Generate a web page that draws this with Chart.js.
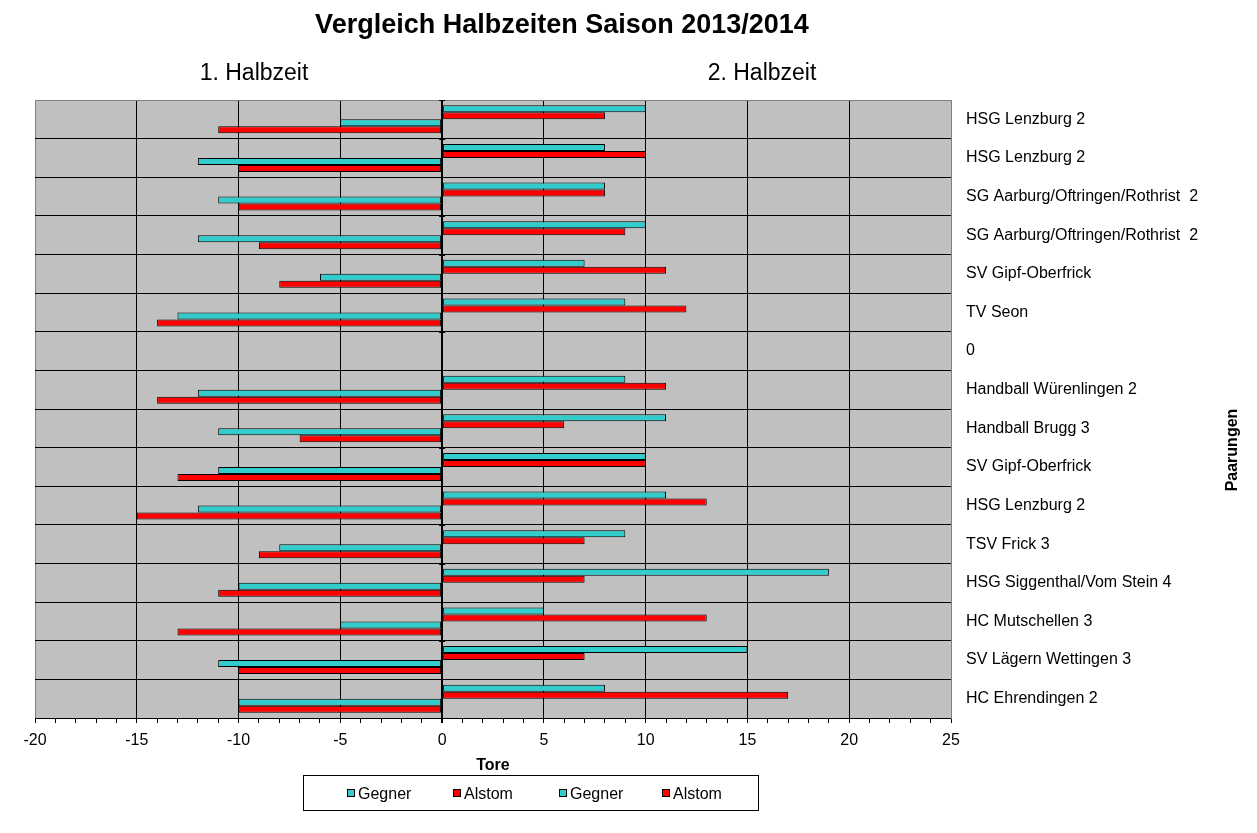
<!DOCTYPE html>
<html>
<head>
<meta charset="utf-8">
<script src="https://cdn.jsdelivr.net/npm/chart.js@4.4.0/dist/chart.umd.min.js"></script>
<style>
    html, body { margin: 0; padding: 0; background: #fff; }
    #wrap { position: relative; width: 1257px; height: 833px; }
</style>
</head>
<body>
<div id="wrap"><canvas id="chart" width="1257" height="833"></canvas></div>
<script>
// Paarungen, von oben nach unten
const paarungen = [
    'HSG Lenzburg 2', 'HSG Lenzburg 2', 'SG Aarburg/Oftringen/Rothrist  2', 'SG Aarburg/Oftringen/Rothrist  2',
    'SV Gipf-Oberfrick', 'TV Seon', '0', 'Handball Würenlingen 2', 'Handball Brugg 3', 'SV Gipf-Oberfrick',
    'HSG Lenzburg 2', 'TSV Frick 3', 'HSG Siggenthal/Vom Stein 4', 'HC Mutschellen 3', 'SV Lägern Wettingen 3',
    'HC Ehrendingen 2'
];
// 2. Halbzeit (positiv)
const gegner2 = [10, 8, 8, 10, 7, 9, null, 9, 11, 10, 11, 9, 19, 5, 15, 8];
const alstom2 = [8, 10, 8, 9, 11, 12, null, 11, 6, 10, 13, 7, 7, 13, 7, 17];
// 1. Halbzeit (negativ dargestellt)
const gegner1 = [-5, -12, -11, -12, -6, -13, null, -12, -11, -11, -12, -8, -10, -5, -11, -10];
const alstom1 = [-11, -10, -10, -9, -8, -14, null, -14, -7, -13, -15, -9, -11, -13, -10, -10];

const xMin = -20, xMax = 25, xMajor = 5;

const cyan = '#33CCCC';
const red = '#FF0000';
const fontFamily = "Arial, 'Liberation Sans', sans-serif";

// grauer Hintergrund der Zeichnungsfläche
const plotBackground = {
    id: 'plotBackground',
    beforeDraw(chart) {
        const { ctx, chartArea: a } = chart;
        ctx.save();
        ctx.fillStyle = '#C0C0C0';
        ctx.fillRect(a.left, a.top, a.right - a.left, a.bottom - a.top);
        ctx.restore();
    }
};

// Titel, Halbzeit-Beschriftungen, Achsentitel rechts, Legende mit Rahmen
const extras = {
    id: 'extras',
    afterDraw(chart) {
        const { ctx } = chart;
        const xs = chart.scales.x;
        const ys = chart.scales.y;
        ctx.save();

        // kleine Teilstriche auf der Nulllinie
        const x0 = xs.getPixelForValue(0);
        ctx.strokeStyle = '#000';
        ctx.lineWidth = 1;
        const band = (ys.bottom - ys.top) / paarungen.length;
        for (let i = 0; i <= paarungen.length; i++) {
            const y = Math.round(ys.top + i * band) + 0.5;
            ctx.beginPath();
            ctx.moveTo(x0 - 3, y);
            ctx.lineTo(x0 + 3, y);
            ctx.stroke();
        }

        ctx.fillStyle = '#000';
        ctx.textBaseline = 'alphabetic';
        ctx.textAlign = 'center';
        ctx.font = 'bold 27px ' + fontFamily;
        ctx.fillText('Vergleich Halbzeiten Saison 2013/2014', 562, 33);

        ctx.font = '23px ' + fontFamily;
        ctx.fillText('1. Halbzeit', 254, 80);
        ctx.fillText('2. Halbzeit', 762, 80);

        // Achsentitel rechts
        ctx.save();
        ctx.translate(1237, 450);
        ctx.rotate(-Math.PI / 2);
        ctx.font = 'bold 16px ' + fontFamily;
        ctx.fillText('Paarungen', 0, 0);
        ctx.restore();

        // Legende
        ctx.strokeStyle = '#000';
        ctx.lineWidth = 1;
        ctx.strokeRect(303.5, 775.5, 455, 35);
        const itemX = [347, 453, 559, 662];
        ctx.font = '16px ' + fontFamily;
        ctx.textAlign = 'left';
        chart.data.datasets.forEach((ds, i) => {
            const x = itemX[i];
            ctx.fillStyle = ds.backgroundColor;
            ctx.fillRect(x, 789, 8, 8);
            ctx.strokeRect(x + 0.5, 789.5, 7, 7);
            ctx.fillStyle = '#000';
            ctx.fillText(ds.label, x + 11, 799);
        });
        ctx.restore();
    }
};

const barStyle = { borderColor: '#000', borderWidth: 1, borderSkipped: false };

new Chart(document.getElementById('chart'), {
    type: 'bar',
    data: {
        labels: paarungen,
        datasets: [
            { label: 'Gegner', data: gegner2, backgroundColor: cyan, ...barStyle },
            { label: 'Alstom', data: alstom2, backgroundColor: red, ...barStyle },
            { label: 'Gegner', data: gegner1, backgroundColor: cyan, ...barStyle },
            { label: 'Alstom', data: alstom1, backgroundColor: red, ...barStyle }
        ]
    },
    options: {
        indexAxis: 'y',
        responsive: false,
        animation: false,
        devicePixelRatio: 1,
        categoryPercentage: 0.725,
        barPercentage: 1.0,
        layout: { padding: { left: 35, top: 100, right: 0, bottom: 0 } },
        scales: {
            x: {
                type: 'linear',
                min: xMin,
                max: xMax,
                afterFit(scale) { scale.height = 115; },
                ticks: {
                    stepSize: 1,
                    autoSkip: false,
                    maxRotation: 0,
                    padding: 8,
                    color: '#000',
                    font: { family: fontFamily, size: 16 },
                    callback: v => (v % xMajor === 0 ? String(v) : '')
                },
                grid: {
                    drawTicks: true,
                    tickLength: 5,
                    tickColor: '#000',
                    color: ctx => {
                        const v = ctx.tick ? ctx.tick.value : null;
                        if (v === xMin || v === xMax) return '#808080';
                        return v % xMajor === 0 ? '#000' : 'rgba(0,0,0,0)';
                    },
                    lineWidth: ctx => (ctx.tick && ctx.tick.value === 0 ? 2 : 1)
                },
                border: { color: '#000', width: 1 },
                title: {
                    display: true,
                    text: 'Tore',
                    color: '#000',
                    font: { family: fontFamily, size: 16, weight: 'bold' },
                    padding: { top: 0, bottom: 58 }
                }
            },
            y: {
                position: 'right',
                afterFit(scale) { scale.width = 306; },
                ticks: {
                    padding: 15,
                    color: '#000',
                    font: { family: fontFamily, size: 16 }
                },
                grid: {
                    drawTicks: false,
                    color: ctx => (ctx.index === 0 ? '#808080' : '#000'),
                    lineWidth: 1
                },
                border: { color: '#808080', width: 1 }
            }
        },
        plugins: {
            legend: { display: false },
            title: { display: false },
            tooltip: { enabled: false }
        }
    },
    plugins: [plotBackground, extras]
});
</script>
</body>
</html>
